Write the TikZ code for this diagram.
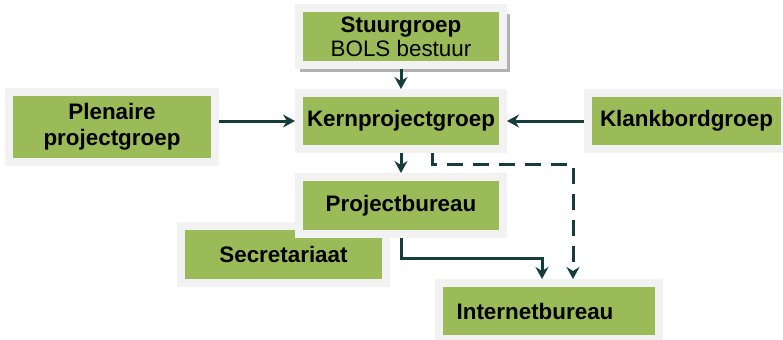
\documentclass[tikz,border=0pt]{standalone}
\usepackage{fontspec}
\setmainfont{Liberation Sans}
\usetikzlibrary{arrows.meta, positioning, calc}

\definecolor{boxgreen}{HTML}{9BBB59}
\definecolor{boxrim}{HTML}{F2F2F2}
\definecolor{arrowteal}{HTML}{173C3E}

\begin{document}
\begin{tikzpicture}[
    x=0.5pt, y=-0.5pt,
    unit/.style={rectangle, draw=boxrim, fill=boxgreen, line width=4pt, inner sep=0pt, align=center, font=\fontsize{11.2}{12.8}\selectfont\bfseries},
    arr/.style={-{Stealth[length=6pt, width=6.5pt, inset=2pt]}, draw=arrowteal, line width=1.5pt},
    dash arr/.style={arr, dash pattern=on 8pt off 5pt}
  ]
    \useasboundingbox (0,0) rectangle (783,339);
    % shadow behind the top box
    \fill[black!30] (300,14) rectangle (510,72);
    \node[unit, minimum width=102pt, minimum height=28.5pt] (stuur) at (401,36.5) {Stuurgroep\\[-1pt]\mdseries BOLS bestuur};
    \node[unit, minimum width=102pt, minimum height=28pt] (kern) at (401,121) {Kernprojectgroep};
    \node[unit, minimum width=103pt, minimum height=35pt] (plen) at (112,127) {Plenaire\\projectgroep};
    \node[unit, minimum width=98.5pt, minimum height=28pt] (klank) at (686.5,121) {Klankbordgroep};
    \node[unit, minimum width=102.5pt, minimum height=28.5pt] (secr) at (283.5,254.5) {Secretariaat};
    \node[unit, minimum width=102pt, minimum height=28.5pt] (proj) at (401,205.5) {Projectbureau};
    \node[unit, minimum width=110pt, minimum height=28pt] (inet) at (549,311) {\hspace*{-14pt}Internetbureau};
    \coordinate (dbend) at (573,164);
    \coordinate (sbend) at (542,258);
    \draw[arr] (stuur.south) -- (kern.north);
    \draw[arr] (plen.east |- kern.west) -- (kern.west);
    \draw[arr] (klank.west) -- (kern.east |- klank.west);
    \draw[arr] (kern.south) -- (proj.north);
    \draw[dash arr] ([xshift=15.5pt]kern.south) |- (dbend) -- (dbend |- inet.north);
    \draw[arr] (proj.south) |- (sbend) -- (sbend |- inet.north);
\end{tikzpicture}
\end{document}
